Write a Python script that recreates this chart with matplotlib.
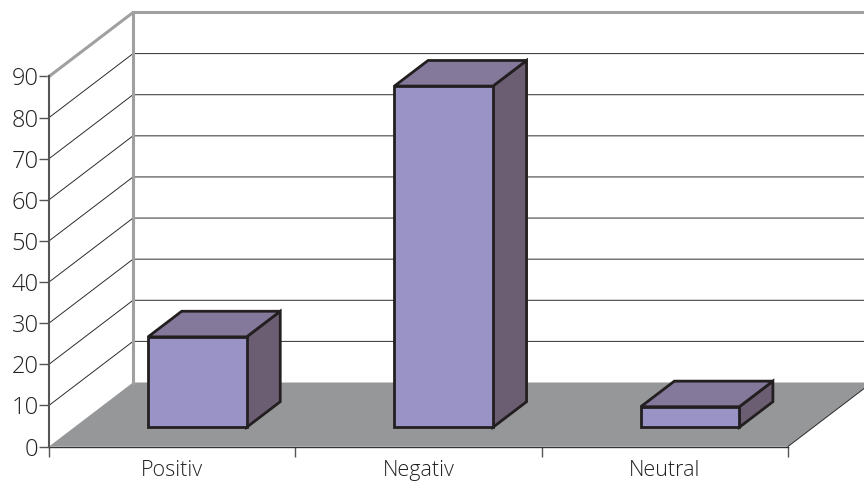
import matplotlib
matplotlib.use("Agg")
import matplotlib.pyplot as plt
from matplotlib.patches import Polygon

categories = ["Positiv", "Negativ", "Neutral"]
values = [22, 83, 5]
yticks = [0, 10, 20, 30, 40, 50, 60, 70, 80, 90]

W, H = 864, 483
plt.rcParams["font.family"] = ["Open Sans", "DejaVu Sans"]
plt.rcParams["font.weight"] = "light"

fig = plt.figure(figsize=(W / 100, H / 100), dpi=100)
# axes box is the front plane of the chart: x 49-788 px, y 76-446 px
ax = fig.add_axes([49 / W, 1 - 446.5 / H, 739 / W, 370 / H])
ax.set_xlim(0, 3)
ax.set_ylim(0, 90)
ax.patch.set_visible(False)

# depth shear of the fake 3d, in data units
dx = 84 / (739 / 3)
dy = 64 / (370 / 90)


def shift(x, y, z):
    return (x + dx * z, y + dy * z)


# floor
floor = [shift(0, 0, 0), shift(3, 0, 0), shift(3, 0, 1), shift(0, 0, 1)]
ax.add_patch(Polygon(floor, closed=True, fc="#969798", ec="none", clip_on=False, zorder=1))

# gridlines on side and back wall
for t in yticks[1:-1]:
    ax.plot(*zip(shift(0, t, 0), shift(0, t, 1), shift(3.5, t, 1)),
            color="#2b2b2b", lw=0.7, clip_on=False, zorder=2)

# wall edges in grey
wall = [shift(0, 90, 0), shift(0, 90, 1), shift(3.5, 90, 1)]
ax.plot(*zip(*wall), color="#a0a0a0", lw=2.2, clip_on=False, zorder=3)
ax.plot(*zip(shift(0, 0, 1), shift(0, 90, 1)), color="#a0a0a0", lw=2.2, clip_on=False, zorder=3)
ax.plot(*zip(shift(3, 0, 0), shift(3, 0, 1)), color="#2b2b2b", lw=0.7, clip_on=False, zorder=3)

# bars
z0, z1 = 0.3, 0.7
edge = "#231f20"
for i, v in enumerate(values):
    x0, x1 = i + 0.3, i + 0.7
    top = [shift(x0, v, z0), shift(x1, v, z0), shift(x1, v, z1), shift(x0, v, z1)]
    side = [shift(x1, 0, z0), shift(x1, v, z0), shift(x1, v, z1), shift(x1, 0, z1)]
    front = [shift(x0, 0, z0), shift(x1, 0, z0), shift(x1, v, z0), shift(x0, v, z0)]
    for pts, col in [(side, "#6c5e72"), (top, "#84799a"), (front, "#9a94c6")]:
        ax.add_patch(Polygon(pts, closed=True, fc=col, ec=edge, lw=2.0,
                             joinstyle="miter", clip_on=False, zorder=5))

for s in ["top", "right"]:
    ax.spines[s].set_visible(False)
ax.spines["left"].set_color("#555555")
ax.spines["left"].set_linewidth(1.5)
ax.spines["bottom"].set_color("#333333")
ax.spines["bottom"].set_linewidth(1.0)
ax.spines["left"].set_zorder(6)
ax.spines["bottom"].set_zorder(4)

ax.set_yticks(yticks)
ax.set_xticks([0, 1, 2, 3])
ax.set_xticklabels([])
ax.set_xticks([0.5, 1.5, 2.5], minor=True)
ax.set_xticklabels(categories, minor=True)
ax.tick_params(axis="x", which="minor", length=0, labelsize=15.5, pad=9.5, labelcolor="#222222")
ax.tick_params(axis="x", which="major", length=7, width=1, color="#555555")
ax.tick_params(axis="y", length=7, width=1, color="#555555", labelsize=17, pad=0.5, labelcolor="#222222")

fig.savefig("out.png", dpi=100)
